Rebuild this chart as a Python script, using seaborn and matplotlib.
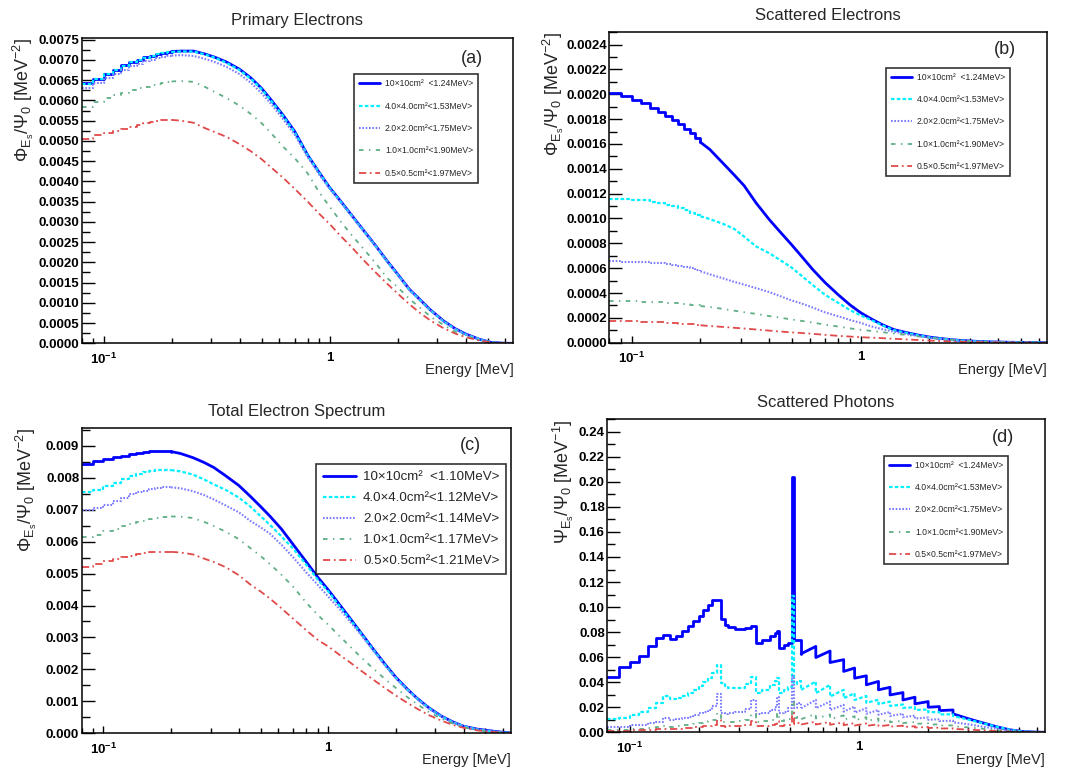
import numpy as np
import matplotlib
matplotlib.use("Agg")
import matplotlib.pyplot as plt
import matplotlib.ticker as mticker
from matplotlib.lines import Line2D
import seaborn as sns

# ---------------------------------------------------------------- data
# energy grid [MeV] (left bin edges, 10 keV bins up to 0.2 MeV)
E_GRID = [0.08, 0.09, 0.10, 0.11, 0.12, 0.13, 0.14, 0.15, 0.16, 0.17, 0.18, 0.19, 0.20,
          0.22, 0.25, 0.28, 0.31, 0.35, 0.40, 0.45, 0.50, 0.55, 0.62, 0.70, 0.80, 0.90,
          1.00, 1.12, 1.25, 1.40, 1.60, 1.80, 2.00, 2.25, 2.50, 2.80, 3.20, 3.60, 4.00,
          4.60, 5.20, 6.00, 6.50]

# (a) primary electrons, units of 1e-3 MeV^-2
PRIM_10 = [6.42, 6.54, 6.66, 6.76, 6.87, 6.95, 7.01, 7.07, 7.11, 7.15, 7.18, 7.20, 7.21,
           7.22, 7.22, 7.15, 7.07, 6.95, 6.77, 6.55, 6.30, 6.02, 5.65, 5.24, 4.65, 4.22,
           3.85, 3.51, 3.17, 2.82, 2.41, 2.03, 1.71, 1.34, 1.09, 0.82, 0.55, 0.36, 0.23,
           0.10, 0.02, 0.0, 0.0]
PRIM_4 = [6.41, 6.53, 6.65, 6.75, 6.86, 6.94, 7.00, 7.06, 7.10, 7.14, 7.17, 7.19, 7.20,
          7.21, 7.21, 7.14, 7.06, 6.93, 6.75, 6.53, 6.28, 6.00, 5.63, 5.22, 4.64, 4.21,
          3.84, 3.50, 3.16, 2.81, 2.40, 2.02, 1.70, 1.33, 1.08, 0.81, 0.54, 0.35, 0.22,
          0.10, 0.02, 0.0, 0.0]
PRIM_2 = [6.32, 6.42, 6.55, 6.65, 6.76, 6.84, 6.91, 6.97, 7.01, 7.05, 7.08, 7.10, 7.11,
          7.12, 7.10, 7.03, 6.95, 6.83, 6.65, 6.43, 6.18, 5.92, 5.55, 5.16, 4.60, 4.17,
          3.82, 3.49, 3.16, 2.81, 2.40, 2.02, 1.70, 1.33, 1.08, 0.81, 0.54, 0.35, 0.22,
          0.10, 0.02, 0.0, 0.0]
PRIM_1 = [5.84, 5.96, 6.05, 6.13, 6.19, 6.25, 6.30, 6.34, 6.38, 6.41, 6.44, 6.46, 6.47,
          6.48, 6.46, 6.34, 6.21, 6.06, 5.87, 5.66, 5.44, 5.20, 4.87, 4.58, 4.20, 3.73,
          3.38, 3.01, 2.68, 2.36, 1.98, 1.61, 1.39, 1.10, 0.89, 0.66, 0.45, 0.28, 0.18,
          0.075, 0.01, 0.0, 0.0]
PRIM_05 = [5.04, 5.14, 5.20, 5.25, 5.30, 5.35, 5.40, 5.44, 5.47, 5.50, 5.51, 5.52, 5.52,
           5.50, 5.45, 5.32, 5.22, 5.10, 4.92, 4.74, 4.55, 4.35, 4.10, 3.82, 3.50, 3.20,
           2.95, 2.65, 2.38, 2.08, 1.75, 1.47, 1.23, 0.97, 0.76, 0.56, 0.37, 0.24, 0.15,
           0.07, 0.02, 0.0, 0.0]

# (b) scattered electrons, units of 1e-4 MeV^-2
SCAT_10 = [20.13, 19.86, 19.53, 19.27, 18.92, 18.56, 18.24, 17.92, 17.57, 17.22, 16.90,
           16.50, 16.14, 15.55, 14.48, 13.53, 12.65, 11.25, 9.90, 8.83, 7.89, 7.00, 5.87,
           4.84, 3.85, 3.04, 2.42, 1.89, 1.43, 1.05, 0.80, 0.60, 0.45, 0.33, 0.24, 0.17,
           0.11, 0.07, 0.05, 0.03, 0.02, 0.01, 0.01]
SCAT_4 = [11.60, 11.58, 11.52, 11.45, 11.35, 11.22, 11.10, 11.00, 10.85, 10.65, 10.45,
          10.30, 10.18, 9.95, 9.58, 9.18, 8.55, 7.75, 7.20, 6.60, 6.05, 5.42, 4.62, 3.85,
          3.20, 2.62, 2.20, 1.80, 1.38, 1.00, 0.77, 0.58, 0.43, 0.32, 0.23, 0.16, 0.11,
          0.07, 0.05, 0.03, 0.02, 0.01, 0.01]
SCAT_2 = [6.54, 6.52, 6.48, 6.46, 6.44, 6.39, 6.34, 6.28, 6.20, 6.11, 6.00, 5.88, 5.75,
          5.50, 5.19, 4.90, 4.68, 4.39, 4.07, 3.72, 3.40, 3.17, 2.82, 2.44, 2.12, 1.83,
          1.60, 1.30, 1.08, 0.88, 0.68, 0.52, 0.40, 0.30, 0.22, 0.15, 0.10, 0.07, 0.05,
          0.03, 0.02, 0.01, 0.01]
SCAT_1 = [3.39, 3.37, 3.34, 3.31, 3.28, 3.25, 3.22, 3.18, 3.14, 3.09, 3.04, 3.00, 2.95,
          2.87, 2.72, 2.58, 2.45, 2.32, 2.14, 2.00, 1.87, 1.76, 1.62, 1.45, 1.30, 1.15,
          1.04, 0.94, 0.84, 0.73, 0.61, 0.50, 0.40, 0.31, 0.23, 0.16, 0.10, 0.06, 0.04,
          0.02, 0.01, 0.01, 0.0]
SCAT_05 = [1.78, 1.76, 1.73, 1.70, 1.66, 1.63, 1.60, 1.57, 1.53, 1.50, 1.47, 1.43, 1.40,
           1.34, 1.27, 1.20, 1.14, 1.06, 0.97, 0.89, 0.83, 0.78, 0.71, 0.63, 0.55, 0.49,
           0.44, 0.40, 0.36, 0.31, 0.26, 0.21, 0.17, 0.13, 0.10, 0.07, 0.05, 0.03, 0.02,
           0.01, 0.01, 0.0, 0.0]

# (c) total electron spectrum, units of 1e-3 MeV^-2
TOT_10 = [8.43, 8.51, 8.58, 8.64, 8.69, 8.74, 8.78, 8.82, 8.84, 8.85, 8.85, 8.84, 8.82,
          8.76, 8.63, 8.48, 8.32, 8.06, 7.76, 7.42, 7.10, 6.80, 6.39, 5.90, 5.36, 4.88,
          4.49, 4.04, 3.60, 3.14, 2.60, 2.14, 1.75, 1.38, 1.08, 0.80, 0.53, 0.35, 0.22,
          0.13, 0.08, 0.03, 0.01]
TOT_4 = [7.55, 7.62, 7.73, 7.85, 7.95, 8.06, 8.12, 8.17, 8.21, 8.24, 8.25, 8.25, 8.24,
         8.20, 8.10, 7.95, 7.79, 7.62, 7.38, 7.10, 6.80, 6.53, 6.16, 5.77, 5.27, 4.80,
         4.44, 4.00, 3.57, 3.12, 2.58, 2.12, 1.73, 1.37, 1.07, 0.79, 0.52, 0.34, 0.22,
         0.12, 0.07, 0.02, 0.01]
TOT_2 = [7.00, 7.06, 7.15, 7.28, 7.38, 7.49, 7.55, 7.60, 7.64, 7.68, 7.71, 7.71, 7.70,
         7.67, 7.58, 7.46, 7.32, 7.13, 6.92, 6.65, 6.45, 6.25, 5.90, 5.50, 5.03, 4.64,
         4.28, 3.90, 3.50, 3.08, 2.55, 2.10, 1.72, 1.36, 1.06, 0.78, 0.52, 0.34, 0.22,
         0.12, 0.07, 0.02, 0.01]
TOT_1 = [6.16, 6.22, 6.32, 6.40, 6.48, 6.55, 6.61, 6.66, 6.71, 6.74, 6.77, 6.78, 6.79,
         6.78, 6.74, 6.62, 6.49, 6.31, 6.08, 5.80, 5.55, 5.30, 4.96, 4.58, 4.08, 3.70,
         3.40, 3.05, 2.72, 2.38, 2.00, 1.68, 1.42, 1.13, 0.90, 0.67, 0.45, 0.30, 0.19,
         0.10, 0.06, 0.02, 0.01]
TOT_05 = [5.22, 5.30, 5.38, 5.45, 5.51, 5.56, 5.60, 5.63, 5.66, 5.68, 5.69, 5.69, 5.68,
          5.66, 5.60, 5.47, 5.36, 5.20, 4.95, 4.66, 4.44, 4.22, 3.91, 3.58, 3.22, 2.92,
          2.72, 2.46, 2.22, 1.96, 1.66, 1.40, 1.18, 0.95, 0.76, 0.57, 0.39, 0.26, 0.17,
          0.09, 0.05, 0.02, 0.0]

# (d) scattered photons, units of 1e-2 MeV^-1
# low-energy histogram bins, then the saw-tooth part (repeated energies = drops)
E_PHOT_STEP = [0.08, 0.09, 0.10, 0.11, 0.12, 0.13, 0.14, 0.15, 0.16, 0.17, 0.18, 0.19,
               0.20, 0.21, 0.22, 0.23, 0.24, 0.25, 0.26, 0.27, 0.29, 0.32, 0.34, 0.355,
               0.38, 0.41, 0.43, 0.44, 0.449, 0.47, 0.49, 0.51, 0.52, 0.54]
E_PHOT_SAW = [0.561, 0.65, 0.65, 0.75, 0.75, 0.86, 0.86, 0.96, 0.96, 1.08, 1.08, 1.22,
              1.22, 1.37, 1.37, 1.56, 1.56, 1.76, 1.76, 2.01, 2.01, 2.25, 2.25, 2.58,
              2.58, 3.05, 3.48, 3.98, 4.55, 5.20, 5.94, 6.50]

PHOT_10 = [4.38, 5.18, 5.58, 6.06, 6.86, 7.53, 7.77, 7.45, 7.72, 8.06, 8.46, 8.86, 9.32,
           9.80, 10.20, 10.55, 10.55, 9.05, 8.60, 8.41, 8.28, 8.30, 8.50, 7.13, 7.40,
           7.72, 7.90, 8.06, 6.73, 6.95, 7.13, 20.35, 7.40, 7.40,
           6.27, 6.86, 5.97, 6.49, 5.57, 5.80, 4.86, 5.13, 4.32, 4.51, 3.79, 4.06, 3.39,
           3.59, 2.98, 3.17, 2.58, 2.80, 2.27, 2.45, 2.00, 2.05, 1.73, 1.78, 1.47, 1.05,
           0.75, 0.45, 0.20, 0.06, 0.01, 0.0]
PHOT_4 = [1.04, 1.15, 1.39, 1.65, 1.92, 2.32, 2.90, 2.62, 2.72, 2.90, 3.15, 3.40, 3.70,
          4.00, 4.35, 4.75, 5.39, 3.92, 3.70, 3.52, 3.55, 3.85, 4.40, 3.12, 3.39, 3.79,
          4.10, 4.32, 3.12, 3.40, 3.65, 10.87, 3.85, 4.10,
          3.39, 4.05, 3.12, 3.79, 2.85, 3.39, 2.72, 3.12, 2.58, 2.90, 2.35, 2.60, 2.25,
          2.45, 2.10, 2.22, 1.95, 2.00, 1.78, 1.82, 1.60, 1.62, 1.42, 1.44, 1.30, 0.98,
          0.72, 0.45, 0.20, 0.06, 0.01, 0.0]
PHOT_2 = [0.40, 0.45, 0.55, 0.62, 0.72, 0.85, 1.12, 0.95, 1.05, 1.15, 1.25, 1.35, 1.50,
          1.65, 1.80, 2.10, 3.05, 1.55, 1.45, 1.50, 1.60, 1.85, 2.60, 1.47, 1.55, 1.75,
          2.05, 2.85, 1.52, 1.65, 1.90, 4.50, 1.95, 2.30,
          1.92, 2.59, 1.92, 2.45, 1.78, 2.19, 1.65, 2.05, 1.57, 1.92, 1.48, 1.78, 1.40,
          1.62, 1.30, 1.48, 1.20, 1.33, 1.10, 1.18, 1.00, 1.04, 0.90, 0.92, 0.80, 0.62,
          0.45, 0.28, 0.14, 0.04, 0.01, 0.0]
PHOT_1 = [0.20, 0.22, 0.27, 0.30, 0.35, 0.40, 0.52, 0.45, 0.50, 0.55, 0.60, 0.66, 0.72,
          0.80, 0.88, 1.00, 1.50, 0.85, 0.80, 0.82, 0.88, 1.00, 1.45, 0.85, 0.88, 0.98,
          1.10, 1.50, 0.90, 0.95, 1.05, 2.50, 1.10, 1.25,
          1.05, 1.47, 1.10, 1.42, 1.05, 1.35, 1.00, 1.28, 0.95, 1.20, 0.90, 1.10, 0.85,
          1.00, 0.80, 0.92, 0.74, 0.82, 0.67, 0.72, 0.60, 0.64, 0.54, 0.55, 0.48, 0.38,
          0.28, 0.18, 0.09, 0.03, 0.01, 0.0]
PHOT_05 = [0.10, 0.12, 0.15, 0.17, 0.20, 0.23, 0.30, 0.26, 0.29, 0.32, 0.36, 0.40, 0.44,
           0.48, 0.54, 0.62, 0.95, 0.50, 0.46, 0.47, 0.52, 0.60, 0.88, 0.50, 0.52, 0.58,
           0.66, 0.90, 0.52, 0.56, 0.62, 1.50, 0.66, 0.75,
           0.62, 0.85, 0.62, 0.82, 0.60, 0.78, 0.56, 0.74, 0.54, 0.70, 0.51, 0.64, 0.48,
           0.58, 0.45, 0.53, 0.42, 0.48, 0.38, 0.42, 0.34, 0.37, 0.30, 0.31, 0.27, 0.21,
           0.15, 0.10, 0.05, 0.02, 0.0, 0.0]

FIELDS = ["10×10cm²  ", "4.0×4.0cm²", "2.0×2.0cm²", "1.0×1.0cm²", "0.5×0.5cm²"]
MEAN_E = ["1.24", "1.53", "1.75", "1.90", "1.97"]
MEAN_E_TOTAL = ["1.10", "1.12", "1.14", "1.17", "1.21"]

# ---------------------------------------------------------------- style
COLORS = ["#0000ff", "#00f0ff", "#7c7cff", "#5fae86", "#e04a4a"]
LSTYLES = ["-", (0, (1.6, 1.0)), (0, (0.8, 0.8)), (0, (2.5, 3, 0.8, 3)), (0, (4, 2, 1, 2))]
LWIDTHS = [2.0, 1.6, 1.5, 1.3, 1.3]

sns.set_theme(style="ticks")
plt.rcParams.update({
    "font.family": ["Liberation Sans", "DejaVu Sans"],
    "mathtext.fontset": "custom",
    "mathtext.rm": "Liberation Sans",
    "mathtext.it": "Liberation Sans:italic",
    "mathtext.bf": "Liberation Sans:bold",
    "axes.linewidth": 1.1,
    "axes.edgecolor": "black",
    "figure.facecolor": "white",
    "axes.facecolor": "white",
})

XLIM = (0.08, 6.5)


def draw_spectrum(ax, x, y, scale, step_end, i):
    """Histogram-like steps at low energy, plain line afterwards."""
    x = np.asarray(x, float)
    y = np.asarray(y, float) * scale
    k = int(np.searchsorted(x, step_end))
    style = dict(color=COLORS[i], linestyle=LSTYLES[i], linewidth=LWIDTHS[i])
    sns.lineplot(x=x[:k + 1], y=y[:k + 1], ax=ax, drawstyle="steps-post",
                 estimator=None, sort=False, **style)
    sns.lineplot(x=x[k:], y=y[k:], ax=ax, estimator=None, sort=False, **style)


def style_axes(ax, title, ylabel, ymax, ymajor, yminor, yfmt, ylab_x, tag, tag_y):
    ax.set_xscale("log")
    ax.set_xlim(*XLIM)
    ax.set_ylim(0, ymax)
    ax.xaxis.set_major_locator(mticker.FixedLocator([0.1, 1.0]))
    ax.xaxis.set_major_formatter(mticker.FixedFormatter([r"$\mathbf{10^{-1}}$", "1"]))
    ax.xaxis.set_minor_locator(mticker.LogLocator(base=10, subs=np.arange(2, 10), numticks=20))
    ax.xaxis.set_minor_formatter(mticker.NullFormatter())
    ax.yaxis.set_major_locator(mticker.MultipleLocator(ymajor))
    ax.yaxis.set_minor_locator(mticker.MultipleLocator(yminor))
    ax.yaxis.set_major_formatter(mticker.FormatStrFormatter(yfmt))
    ax.tick_params(axis="both", which="both", direction="in", top=False, right=False,
                   colors="black", labelsize=9.5)
    ax.tick_params(axis="y", which="major", length=9, width=1, pad=1.8)
    ax.tick_params(axis="y", which="minor", length=6, width=1)
    ax.tick_params(axis="x", which="major", length=5, width=1, pad=6)
    ax.tick_params(axis="x", which="minor", length=3.5, width=1)
    for lab in ax.get_xticklabels() + ax.get_yticklabels():
        lab.set_fontweight("bold")
    for sp in ax.spines.values():
        sp.set_visible(True)
        sp.set_color("black")
    ax.set_title(title, fontsize=12, pad=9)
    ax.set_xlabel("Energy [MeV]", fontsize=10.5, loc="right")
    ax.xaxis.set_label_coords(1.0, -0.065)
    ax.set_ylabel(ylabel, fontsize=13, loc="top")
    ax.yaxis.set_label_coords(ylab_x, 1.0)
    ax.text(0.905, tag_y, tag, transform=ax.transAxes, ha="center", va="center", fontsize=13)


def add_legend(ax, means, x0, ytop, fs, spacing, hlen, hpad, bpad):
    handles = [Line2D([0], [0], color=COLORS[i], linestyle=LSTYLES[i], linewidth=LWIDTHS[i])
               for i in range(5)]
    labels = [f"{f}<{m}MeV>" for f, m in zip(FIELDS, means)]
    leg = ax.legend(handles, labels, loc="upper left", bbox_to_anchor=(x0, ytop),
                    borderaxespad=0, frameon=True, fancybox=False, edgecolor="black",
                    fontsize=fs, handlelength=hlen, handletextpad=hpad,
                    labelspacing=spacing, borderpad=bpad)
    leg.get_frame().set_linewidth(1.2)


fig = plt.figure(figsize=(10.66, 7.73), dpi=100)
ax_a = fig.add_axes([0.0766, 0.5559, 0.4049, 0.3953])
ax_b = fig.add_axes([0.5716, 0.5567, 0.4103, 0.4016])
ax_c = fig.add_axes([0.0766, 0.0514, 0.4027, 0.3946])
ax_d = fig.add_axes([0.5697, 0.0527, 0.4106, 0.4049])

for i, ys in enumerate([PRIM_10, PRIM_4, PRIM_2, PRIM_1, PRIM_05]):
    draw_spectrum(ax_a, E_GRID, ys, 1e-3, 0.20, i)
for i, ys in enumerate([SCAT_10, SCAT_4, SCAT_2, SCAT_1, SCAT_05]):
    draw_spectrum(ax_b, E_GRID, ys, 1e-4, 0.20, i)
for i, ys in enumerate([TOT_10, TOT_4, TOT_2, TOT_1, TOT_05]):
    draw_spectrum(ax_c, E_GRID, ys, 1e-3, 0.20, i)
for i, ys in enumerate([PHOT_10, PHOT_4, PHOT_2, PHOT_1, PHOT_05]):
    draw_spectrum(ax_d, E_PHOT_STEP + E_PHOT_SAW, ys, 1e-2, E_PHOT_SAW[0], i)

elec_lab = r"$\Phi_{\mathrm{E_s}}/\Psi_{0}$ [MeV$^{-2}$]"
phot_lab = r"$\Psi_{\mathrm{E_s}}/\Psi_{0}$ [MeV$^{-1}$]"

style_axes(ax_a, "Primary Electrons", elec_lab, 0.00755, 0.0005, 0.00025, "%.4f",
           -0.105, "(a)", 0.932)
style_axes(ax_b, "Scattered Electrons", elec_lab, 0.0025, 0.0002, 0.0001, "%.4f",
           -0.098, "(b)", 0.945)
style_axes(ax_c, "Total Electron Spectrum", elec_lab, 0.00955, 0.001, 0.0005, "%.3f",
           -0.099, "(c)", 0.942)
style_axes(ax_d, "Scattered Photons", phot_lab, 0.25, 0.02, 0.01, "%.2f",
           -0.072, "(d)", 0.941)

add_legend(ax_a, MEAN_E, 0.631, 0.881, 6.2, 1.55, 2.4, 0.6, 0.6)
add_legend(ax_b, MEAN_E, 0.632, 0.886, 6.2, 1.55, 2.4, 0.6, 0.6)
add_legend(ax_c, MEAN_E_TOTAL, 0.547, 0.882, 9.6, 0.65, 2.5, 0.5, 0.5)
add_legend(ax_d, MEAN_E, 0.632, 0.884, 6.2, 1.55, 2.4, 0.6, 0.6)

fig.savefig("out.png", dpi=100)
